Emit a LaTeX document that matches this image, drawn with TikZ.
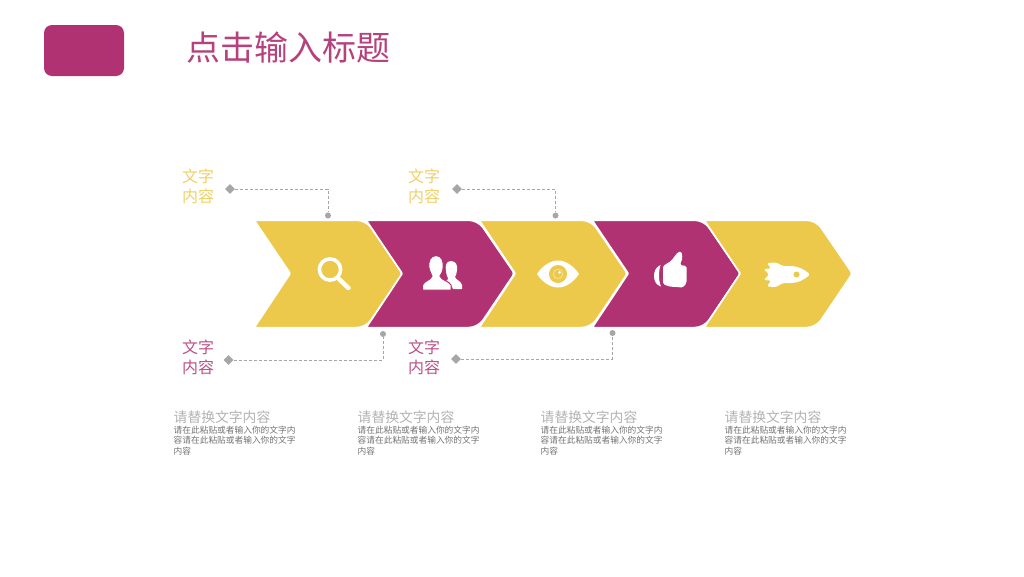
\documentclass[tikz,border=0pt]{standalone}
\usepackage{fontspec}
\setmainfont{Noto Sans CJK SC}
\usetikzlibrary{shapes.geometric}
\definecolor{mag}{HTML}{B03272}
\definecolor{yel}{HTML}{ECC94B}
\definecolor{gry}{HTML}{A6A6A6}
\newcommand{\chev}[2]{%
  \begin{scope}[xshift=#1pt]
  \filldraw[fill=#2,draw=white,line width=1.7pt,line join=round] (-0.8,220.2) [rounded corners=1pt] -- (-0.8,220.2) [rounded corners=9pt] -- (111,220.2) [rounded corners=3pt] -- (147.5,273.5) [rounded corners=9pt] -- (111,327.6) [rounded corners=1pt] -- (-0.8,327.6) -- (35.2,273.5) -- cycle;
  \end{scope}}
\newcommand{\lab}[4]{\node[lab,text=#4!85] (#1) at (#2,#3) {文字\\内容};}
\newcommand{\para}[2]{%
  \node[head] (#1h) at (#2,417) {请替换文字内容};
  \node[body] (#1b) at (#2,440.5) {请在此粘贴或者输入你的文字内\\容请在此粘贴或者输入你的文字\\内容};}
\tikzset{
  lab/.style={font=\fontsize{16}{20}\selectfont,align=center,inner sep=0pt},
  head/.style={font=\fontsize{13.8}{16}\selectfont,text=gry!85,anchor=west,inner sep=0pt},
  body/.style={font=\fontsize{8.7}{10.6}\selectfont,text=black!55,anchor=west,align=left,inner sep=0pt},
  dia/.style={diamond,fill=gry,inner sep=0pt,minimum size=10pt},
  dot/.style={circle,fill=gry,inner sep=0pt,minimum size=6pt},
  lead/.style={gry,densely dashed,line width=0.7pt},
}
\begin{document}
\begin{tikzpicture}[x=1pt,y=-1pt]
\useasboundingbox (0,0) rectangle (1024,576);
\fill[white] (0,0) rectangle (1024,576);
\node[fill=mag,rounded corners=8pt,minimum width=80pt,minimum height=51pt,inner sep=0pt] (logo) at (84,50.5) {};
\node[font=\fontsize{34}{40}\selectfont,text=mag!92,anchor=west,inner sep=0pt] (title) at (186.5,48) {点击输入标题};
\chev{255}{yel}
\chev{367}{mag}
\chev{480}{yel}
\chev{593}{mag}
\chev{705}{yel}
% magnifier
\draw[white,line width=3.6pt] (330,269.5) circle (10.6);
\draw[white,line width=4.5pt,line cap=round] (339,279) -- (348.5,288);
% people
\fill[white] (451,261) .. controls (446,261) and (445,266) .. (446,271) .. controls (446,274) and (447,276) .. (448,278) .. controls (448,280) and (447,281) .. (446,281) .. controls (449,283) and (452,285) .. (453,289) -- (462,289) -- (462,285) .. controls (461,281) and (456,280) .. (455,277) .. controls (456,275) and (457,273) .. (457,270) .. controls (458,266) and (456,261) .. (451,261) -- cycle;
\filldraw[fill=white,draw=mag,line width=1pt] (436,255.5) .. controls (430,255.5) and (428,262) .. (429,268) .. controls (430,272) and (431,274) .. (432,276) .. controls (431,280) and (424,281) .. (422.5,285) -- (422.5,290) -- (451,290) -- (451,285) .. controls (449,281) and (441,280) .. (440,276) .. controls (441,274) and (443,272) .. (443,268) .. controls (444,262) and (442,255.5) .. (436,255.5) -- cycle;
% eye
\fill[white] (537,274) .. controls (543,265) and (551,260.5) .. (558,260.5) .. controls (565,260.5) and (573,265) .. (579,274) .. controls (573,283) and (565,287.5) .. (558,287.5) .. controls (551,287.5) and (543,283) .. (537,274) -- cycle;
\fill[yel] (558,274) circle (9);
\fill[white!40!yel] (558,274) circle (5.2);
\fill[yel] (558,274) circle (4);
\fill[white] (559.5,272.5) circle (1.4);
% thumb
\fill[white,rounded corners=1.5pt] (663,266) -- (671,261) -- (678,252) -- (681.5,251.5) -- (682.5,258) -- (680,265) -- (686.5,266) -- (686.5,283) -- (683,287.5) -- (669,286.5) -- (663,284) -- cycle;
\fill[white] (660.5,265) .. controls (656,267) and (654,271) .. (654,276) .. controls (654,281) and (656,285) .. (661,286.5) .. controls (659.5,283) and (659,279) .. (659,276) .. controls (659,272) and (659.5,268) .. (660.5,265) -- cycle;
% rocket
\fill[white,rounded corners=1.5pt] (767,263) -- (776,262.5) -- (783,266) -- (790,266) .. controls (797,266) and (804,269) .. (810,274.5) .. controls (804,280) and (797,283) .. (790,283) -- (783,283) -- (776,287) -- (767,286.5) -- (771,280.5) -- (763.5,280) -- (769,274.5) -- (763.5,269) -- (771,268.5) -- cycle;
\fill[yel] (796.5,274.5) circle (3);
% labels
\lab{t1}{198}{186.7}{yel}
\lab{t2}{424}{186.7}{yel}
\lab{t3}{198}{357.5}{mag}
\lab{t4}{424}{357.5}{mag}
\node[dia] (d1) at (230,189) {};
\node[dot] (p1) at (328,215.5) {};
\draw[lead] (d1) -| (p1);
\node[dia] (d2) at (457,189) {};
\node[dot] (p2) at (555.5,215.5) {};
\draw[lead] (d2) -| (p2);
\node[dia] (d3) at (228.5,360) {};
\node[dot] (p3) at (383,334) {};
\draw[lead] (d3) -| (p3);
\node[dia] (d4) at (456,359) {};
\node[dot] (p4) at (612.5,333) {};
\draw[lead] (d4) -| (p4);
\para{a}{173.5}
\para{b}{357.5}
\para{c}{540.5}
\para{d}{724.5}
\end{tikzpicture}
\end{document}
